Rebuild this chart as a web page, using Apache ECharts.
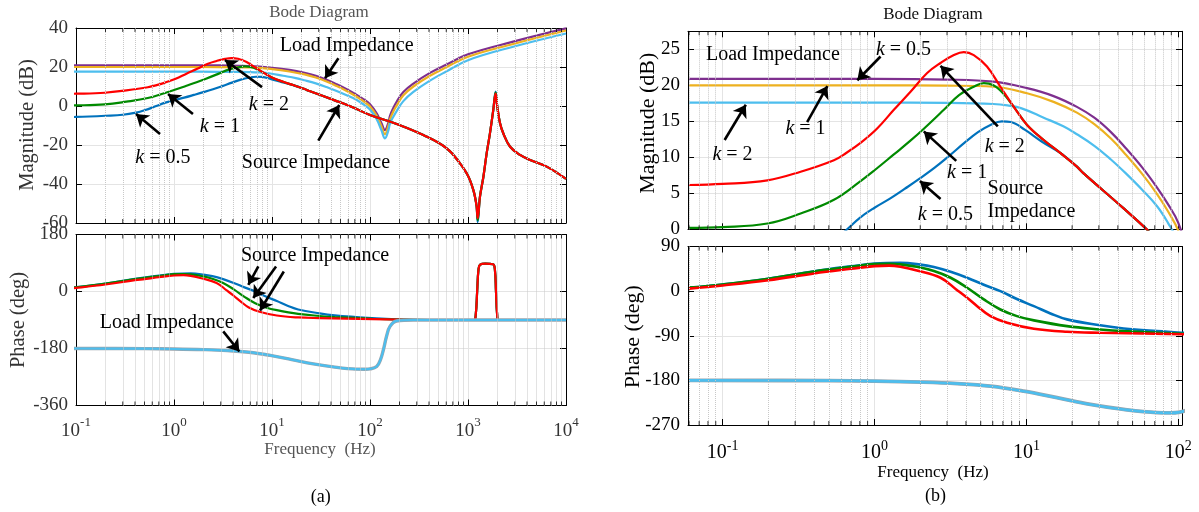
<!DOCTYPE html>
<html><head><meta charset="utf-8">
<script src="https://cdn.jsdelivr.net/npm/echarts@6/dist/echarts.min.js"></script>
<style>html,body{margin:0;padding:0;background:#fff}#c{width:1199px;height:512px}</style>
</head><body><div id="c"></div>
<script>
// ---------------- data ----------------
// Source impedance magnitude (dB), low/mid band per k
const srcMagLowK05 = [[0.06,-5.8],[0.1,-5.6],[0.2,-5.0],[0.3,-4.5],[0.41,-3.4],[0.5,-2.2],[0.66,0],[0.8,1.6],[1,3.0],[1.27,4.3],[1.6,5.7],[2.0,7.1],[2.5,8.6],[3.1,10.2],[3.9,12.0],[4.8,13.5],[5.8,14.5],[6.9,15.0],[7.9,14.9],[9.8,13.8],[12.6,12.2],[16.7,10.6],[21.5,8.7]];
const srcMagLowK1 = [[0.06,0.2],[0.1,0.3],[0.197,0.8],[0.326,2.2],[0.54,4.1],[0.809,6.7],[1,8.2],[1.34,10.4],[1.7,12.2],[2.12,14.0],[2.86,16.6],[3.6,18.65],[4.5,19.8],[5.24,20.3],[6.06,20.0],[7.02,18.9],[8.26,17.0],[10.1,14.5],[13,12.4],[16.7,10.6],[21.5,8.7]];
const srcMagLowK2 = [[0.06,6.15],[0.1,6.3],[0.197,6.8],[0.326,8.0],[0.54,9.6],[0.65,10.6],[0.809,12.0],[1.04,14.0],[1.34,16.6],[1.725,19.1],[2.22,21.7],[2.72,23.1],[3.33,24.2],[3.87,24.6],[4.5,24.2],[5.5,22.6],[6.74,19.8],[8.26,17.0],[10.1,14.5],[13,12.4],[16.7,10.6],[21.5,8.7]];
// shared high band
const srcMagMid = [[23.7,7.8],[43.7,2.9],[65.5,-0.5],[100,-4.6],[187,-9.2],[350,-14.9],[606,-21.7],[829,-29.4],[968,-34.5],[1047,-38],[1132,-43],[1178,-46.5],[1225,-51.6]];
const srcDipK05 = [[1256,-59.5]];
const srcDipK1 = [[1256,-58.5]];
const srcDipK2 = [[1256,-57.5]];
const srcMagRise = [[1325,-46.5],[1436,-36.3],[1550,-24.3],[1675,-14],[1812,-2]];
const srcPeakK05 = [[1913,7.4]];
const srcPeakK1 = [[1913,6.9]];
const srcPeakK2 = [[1913,6.4]];
const srcMagEnd = [[1990,-0.4],[2123,-8.9],[2290,-14],[2690,-20.9],[3400,-25.1],[4300,-27.7],[6350,-31.1],[10000,-37.4]];

// Load impedance magnitude (dB)
const loadMagK05 = [[0.06,20.9],[1,20.9],[3,20.8],[6.06,20.5],[10.1,19.6],[15.1,18.5],[21.5,17.0],[28,15.5],[36,13.5],[45,11.3],[57.8,8.6],[72.5,5.8],[85.5,3.5],[100,0.9],[117,-3.8],[131,-8.8],[142,-12.3],[154,-8.5],[160,-5.0],[173,-1],[187,2.2],[219,7.2],[277,11.5],[409,17],[606,21.3],[1000,26.5],[2890,33],[10000,39.8]];
const loadMagK1 = [[0.06,20.0],[1,20.0],[3,19.95],[6.06,19.8],[10.1,18.9],[15.1,17.7],[21.5,16.2],[28,14.6],[36,12.6],[45,10.4],[57.8,7.7],[72.5,4.9],[85.5,2.5],[100,-0.2],[117,-5.0],[131,-10.5],[142,-14.4],[154,-10],[160,-6.8],[173,-2.8],[187,0.2],[219,5.5],[277,10],[409,15.5],[606,20],[1000,25.3],[2890,31.8],[10000,38.7]];
const loadMagK2 = [[0.06,17.6],[1,17.6],[3,17.55],[6.06,17.4],[7.5,17.2],[9.3,16.8],[13,15.5],[17.5,14.3],[21.5,13.2],[28,11.6],[36,9.7],[45,7.8],[57.8,5.5],[72.5,3.2],[85.5,0.9],[100,-1.8],[117,-6.8],[131,-12.5],[142,-16.6],[154,-12.5],[160,-8.9],[173,-5.5],[187,-2.6],[219,2.5],[277,7.2],[409,13],[606,17.8],[1000,23.5],[2890,30.4],[10000,37.2]];

// Source impedance phase (deg)
const srcPhaseK05 = [[0.06,7],[0.1,13.5],[0.2,25],[0.4,40],[0.7,50],[1,55.5],[1.48,57],[2.0,53.5],[2.46,48.5],[3.17,39],[4.07,27],[5.24,13],[6.74,0],[8.66,-16],[11.2,-30.3],[14.4,-45],[18.5,-57],[30.6,-69],[43.7,-75.3],[72.4,-80.7],[107,-84]];
const srcPhaseK1 = [[0.06,7],[0.1,13.5],[0.2,25],[0.4,39.5],[0.7,49],[1,54.6],[1.25,55.3],[1.48,54],[1.9,49],[2.46,40.4],[3.17,27],[4.07,6.8],[5.24,-16.8],[6.74,-37],[8.66,-50.4],[11.2,-59],[18.5,-70.6],[30.6,-77.3],[43.7,-80.7],[107,-86]];
const srcPhaseK2 = [[0.06,5],[0.1,11.5],[0.2,22],[0.4,35.7],[0.7,45],[1,50.5],[1.25,51.5],[1.48,49.2],[1.9,41.8],[2.72,27],[3.45,3.4],[4.07,-13.4],[4.74,-30.3],[5.8,-50.4],[7.46,-63.8],[11.2,-75.9],[18.5,-82],[30.6,-84],[107,-87]];
const srcPhaseTail = [[200,-88.5],[400,-90],[1150,-90],[1200,-72],[1240,0],[1280,70],[1330,85],[1500,88],[1800,86],[1880,70],[1930,0],[1980,-70],[2050,-90],[10000,-90]];
// Load impedance phase (deg), all k overlap
const loadPhase = [[0.06,-180],[0.5,-180.5],[1,-181.5],[2,-183.5],[3.5,-186.5],[5.8,-191.7],[9.6,-201.8],[15.9,-215],[26.4,-228.6],[43.7,-238.7],[72.4,-245],[90,-245.5],[100,-244.5],[117,-237],[128,-215],[137,-184],[148,-140],[160,-110],[187,-93],[277,-90],[10000,-90]];

// axis ticks
const magTicksA = [-60,40,20];     // min, max, interval
const phaseTicksA = [-360,180,180];
const magTicksB = [0,27.5,5];
const phaseTicksB = [-270,90,90];
const freqRangeA = [0.1,10000];
const freqRangeB = [0.0591,105.8];
const decadesA = [0.1,1,10,100,1000];
const decadesB = [0.01,0.1,1,10,100];
const minorMult = [2,3,4,5,6,7,8,9];

// annotations: [tail, head] arrows and [text, position]
const arrowsAMag = [[[0.72,-14.4],[0.41,-4.1]],[[1.56,-4.1],[0.87,6.2]],[[7.9,9.7],[3.31,23.6]],[[47.6,24.5],[34.8,14.2]],[[29.7,-17.8],[48.6,0.5]]];
const textsAMag = [['{i|k} = 0.5',[0.77,-26.7]],['{i|k} = 1',[2.94,-10.8]],['{i|k} = 2',[9.3,0.5]],['Load Impedance',[57.8,30.8]],['Source Impedance',[28.1,-29.2]]];
const arrowsAPh = [[[7.25,79],[5.73,21.2]],[[11,79],[6.44,-20.8]],[[13.2,63],[7.55,-60]],[[3.18,-126],[4.64,-189.5]]];
const textsAPh = [['Source Impedance',[27.5,112.7]],['Load Impedance',[0.842,-99.8]]];
const arrowsBMag = [[[1.095,24],[0.77,20.7]],[[0.36,14.9],[0.489,19.9]],[[0.103,12.4],[0.142,17.3]],[[6.48,14.3],[2.72,22.7]],[[3.45,9.5],[2.11,13.6]],[[2.72,4.2],[1.99,6.7]]];
const textsBMag = [['Load Impedance',[0.214,24.2]],['{i|k} = 0.5',[1.55,24.9]],['{i|k} = 1',[0.351,14]],['{i|k} = 2',[0.116,10.3]],['{i|k} = 2',[7.2,11.5]],['{i|k} = 1',[4.07,7.8]],['{i|k} = 0.5',[2.93,2.0]]];
const textsBMagLeft = [['Source\nImpedance',[5.51,4.07]]];

// ---------------- chart ----------------
const FONT = '"Liberation Serif","Times New Roman",serif';
const C = {blue:'#0072BD', green:'#008a00', red:'#ff0000', purple:'#7E2F8E', orange:'#EDB120', lblue:'#4DBEEE'};
const GRIDS = [
  {left:76, top:28, width:490, height:195},
  {left:76, top:234.5, width:490, height:171},
  {left:688, top:31.3, width:494, height:198},
  {left:688, top:246.5, width:494, height:178.5}
];
const XR = [freqRangeA, freqRangeA, freqRangeB, freqRangeB];
const YR = [magTicksA, phaseTicksA, magTicksB, phaseTicksB];
const DEC = [decadesA, decadesA, decadesB, decadesB];
const TXT = ['#333','#333','#000','#000'];

function expLabel(v){
  const l = Math.log10(v), e = Math.round(l);
  if (Math.abs(l-e) > 1e-6) return '';
  return '{b|10}{s|' + (e < 0 ? '-' + (-e) : e) + '}';
}
function minorFreqs(i){
  const out = [];
  DEC[i].forEach(d => minorMult.forEach(m => { const f = m*d; if (f > XR[i][0] && f < XR[i][1]) out.push(+f.toPrecision(6)); }));
  return out;
}

const xAxes = [], yAxes = [];
GRIDS.forEach((g,i) => {
  const [xmin,xmax] = XR[i];
  const [ymin,ymax,yint] = YR[i];
  const showX = (i===1 || i===3);
  const bigX = i>=2;
  xAxes.push({gridIndex:i, type:'log', logBase:10, min:xmin, max:xmax, position:'bottom',
    axisLine:{show:true, onZero:false, lineStyle:{color:'#000', width:1}},
    axisTick:{show:true, inside:true, length:6, lineStyle:{color:'#000'}},
    axisLabel:{show:showX, margin: bigX?14:11, formatter: expLabel,
      rich:{b:{fontSize: bigX?20:19, fontFamily:FONT, color:TXT[i], lineHeight:24, verticalAlign:'bottom'},
            s:{fontSize: bigX?14:13, fontFamily:FONT, color:TXT[i], lineHeight:17, verticalAlign:'top'}}},
    splitLine:{show:true, lineStyle:{color:'#e4e4e4', width:1}}
  });
  xAxes.push({gridIndex:i, type:'log', logBase:10, min:xmin, max:xmax, position:'top',
    axisLine:{show:true, onZero:false, lineStyle:{color:'#000', width:1}},
    axisTick:{show:true, inside:true, length:6, lineStyle:{color:'#000'}},
    axisLabel:{show:false}, splitLine:{show:false}
  });
  yAxes.push({gridIndex:i, type:'value', min:ymin, max:ymax, interval:yint, position:'left',
    axisLine:{show:true, onZero:false, lineStyle:{color:'#000', width:1}},
    axisTick:{show:true, inside:true, length:6, lineStyle:{color:'#000'}},
    axisLabel:{show:true, margin:8, fontSize:19, fontFamily:FONT, color:TXT[i],
      formatter: v => (Math.abs(v/yint - Math.round(v/yint)) < 1e-6 ? String(v) : '')},
    splitLine:{show:true, lineStyle:{color:'#e4e4e4', width:1}}
  });
  yAxes.push({gridIndex:i, type:'value', min:ymin, max:ymax, interval:yint, position:'right',
    axisLine:{show:true, onZero:false, lineStyle:{color:'#000', width:1}},
    axisTick:{show:true, inside:true, length:6, lineStyle:{color:'#000'}},
    axisLabel:{show:false}, splitLine:{show:false}
  });
});

const series = [];
function line(gi, data, color, width, z){
  series.push({type:'line', xAxisIndex:gi*2, yAxisIndex:gi*2, data, showSymbol:false, symbol:'none',
    smooth:0.4, clip:true, z,
    lineStyle:{color, width}, itemStyle:{color}, silent:true});
}
const magK05 = srcMagLowK05.concat(srcMagMid, srcDipK05, srcMagRise, srcPeakK05, srcMagEnd);
const magK1  = srcMagLowK1.concat(srcMagMid, srcDipK1, srcMagRise, srcPeakK1, srcMagEnd);
const magK2  = srcMagLowK2.concat(srcMagMid, srcDipK2, srcMagRise, srcPeakK2, srcMagEnd);
const phK05 = srcPhaseK05.concat(srcPhaseTail);
const phK1  = srcPhaseK1.concat(srcPhaseTail);
const phK2  = srcPhaseK2.concat(srcPhaseTail);

[0,2].forEach(gi => {
  line(gi, loadMagK05, C.purple, 2.2, 3);
  line(gi, loadMagK1, C.orange, 2.2, 3);
  line(gi, loadMagK2, C.lblue, 2.2, 3);
  line(gi, magK05, C.blue, 2.2, 4);
  line(gi, magK1, C.green, 2.2, 4);
  line(gi, magK2, C.red, 2.2, 4);
});
[1,3].forEach(gi => {
  const w = gi===3 ? 2.6 : 2.2;
  line(gi, phK05, C.blue, w, 3);
  line(gi, phK1, C.green, w, 3);
  line(gi, phK2, C.red, w, 3);
  line(gi, loadPhase, '#9aa4ac', w+1.2, 4);
  line(gi, loadPhase, C.lblue, w, 4);
});

// minor grid + minor ticks
GRIDS.forEach((g,i) => {
  const mf = minorFreqs(i);
  const [ymin,ymax] = YR[i];
  series.push({type:'line', xAxisIndex:i*2, yAxisIndex:i*2, data:[], z:1, silent:true,
    markLine:{silent:true, symbol:['none','none'], label:{show:false}, animation:false,
      lineStyle:{type:'dotted', color:'#c8c8c8', width:1}, data: mf.map(f => ({xAxis:f}))}});
  series.push({type:'scatter', xAxisIndex:i*2, yAxisIndex:i*2, data: mf.map(f => [f, ymax]), symbol:'rect',
    symbolSize:[1,4], symbolOffset:[0,2], itemStyle:{color:'#000'}, clip:false, silent:true, z:6});
  series.push({type:'scatter', xAxisIndex:i*2, yAxisIndex:i*2, data: mf.map(f => [f, ymin]), symbol:'rect',
    symbolSize:[1,4], symbolOffset:[0,-2], itemStyle:{color:'#000'}, clip:false, silent:true, z:6});
});

// annotations
function annot(gi, arrows, texts, leftTexts){
  series.push({type:'line', xAxisIndex:gi*2, yAxisIndex:gi*2, data:[], z:8, silent:true,
    markLine:{silent:true, animation:false, symbol:['none','arrow'], symbolSize:12, label:{show:false},
      lineStyle:{type:'solid', color:'#000', width:2.6},
      data: arrows.map(a => [{coord:a[0]},{coord:a[1]}])},
    markPoint:{silent:true, animation:false, symbol:'circle', symbolSize:1, itemStyle:{color:'rgba(0,0,0,0)'},
      label:{show:true, position:'inside', color:'#000', fontSize:20, fontFamily:FONT,
        rich:{i:{fontStyle:'italic', fontSize:20, fontFamily:FONT, color:'#000'}}},
      data: texts.map(t => ({coord:t[1], label:{formatter:t[0]}})).concat(
        (leftTexts||[]).map(t => ({coord:t[1], label:{formatter:t[0], position:'right', distance:0, align:'left', lineHeight:23}}))
      )}
  });
}
annot(0, arrowsAMag, textsAMag);
annot(1, arrowsAPh, textsAPh);
annot(2, arrowsBMag, textsBMag, textsBMagLeft);

function gtext(text, x, y, size, color, rot){
  return {type:'text', x, y, rotation: rot||0, silent:true, z:10,
    style:{text, fill:color, font: size+'px "Liberation Serif"', textAlign:'center', textVerticalAlign:'middle', align:'center', verticalAlign:'middle'}};
}
const graphics = [
  gtext('Bode Diagram', 319, 13, 17, '#555'),
  gtext('Bode Diagram', 933, 15, 17, '#111'),
  gtext('Frequency  (Hz)', 320, 450, 17, '#555'),
  gtext('Frequency  (Hz)', 933, 473, 17, '#000'),
  gtext('(a)', 320.7, 497.7, 18, '#000'),
  gtext('(b)', 935.5, 496.7, 18, '#000'),
  gtext('Magnitude (dB)', 28, 125, 20.5, '#333', Math.PI/2),
  gtext('Phase (deg)', 19, 320, 20.5, '#333', Math.PI/2),
  gtext('Magnitude (dB)', 648.7, 123.3, 22, '#000', Math.PI/2),
  gtext('Phase (deg)', 633, 336.7, 22, '#000', Math.PI/2)
];

const chart = echarts.init(document.getElementById('c'), null, {renderer:'canvas'});
chart.setOption({
  animation:false,
  backgroundColor:'#fff',
  grid: GRIDS.map(g => Object.assign({containLabel:false}, g)),
  xAxis: xAxes, yAxis: yAxes,
  series, graphic: graphics
});
</script></body></html>
